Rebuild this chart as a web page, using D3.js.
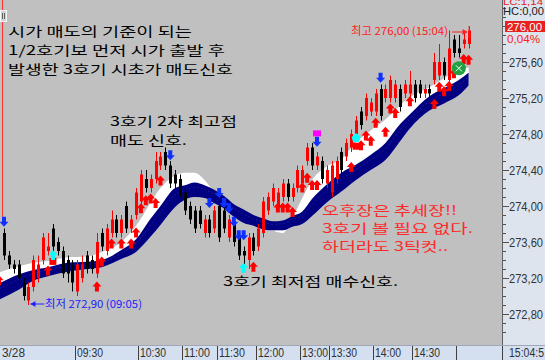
<!DOCTYPE html>
<html><head><meta charset="utf-8">
<script src="https://cdn.jsdelivr.net/npm/d3@7/dist/d3.min.js"></script>
<style>html,body{margin:0;padding:0;background:#fff;overflow:hidden}</style>
</head><body><svg id="c" width="545" height="360"></svg>
<script>
// ---- data (prices per candle, index 0..95) ----
const openP = [273.70,273.45,273.35,273.35,273.15,272.95,273.10,273.20,273.40,273.50,
273.75,273.60,273.50,273.40,273.35,273.05,273.20,273.45,273.40,273.25,
273.70,273.50,273.70,273.85,273.70,274.00,273.75,273.90,274.05,274.30,
274.20,274.30,274.45,274.60,274.45,274.35,274.30,274.15,274.00,273.95,
273.95,273.70,273.85,273.75,274.00,273.95,273.65,273.80,273.65,273.50,
273.40,273.65,273.55,273.70,273.95,274.05,274.00,274.10,274.25,274.10,
274.20,274.25,274.50,274.65,274.45,274.50,274.25,274.15,274.30,274.60,
274.55,274.65,274.80,275.05,275.00,275.05,275.05,275.30,275.20,275.20,
275.20,275.30,275.25,275.25,275.35,275.35,275.25,275.30,275.40,275.45,
275.60,275.40,275.85,275.75,275.80,275.80];
const highP = [273.75,273.50,273.40,273.40,273.20,273.15,273.45,273.45,273.70,273.70,
273.80,273.65,273.55,273.45,273.40,273.40,273.45,273.50,273.45,273.70,
273.75,273.80,273.95,273.90,273.90,274.05,273.90,274.20,274.40,274.40,
274.35,274.60,274.60,274.65,274.50,274.40,274.35,274.20,274.05,274.00,
274.00,273.90,273.90,274.00,274.05,274.00,273.90,273.85,273.70,273.55,
273.70,273.70,273.80,274.10,274.15,274.25,274.20,274.30,274.30,274.25,
274.45,274.45,274.70,274.70,274.60,274.55,274.45,274.50,274.55,274.65,
274.75,274.85,275.00,275.10,275.25,275.20,275.30,275.35,275.35,275.45,
275.40,275.35,275.40,275.50,275.40,275.40,275.35,275.35,275.70,275.80,
275.65,275.95,275.90,275.90,275.95,276.00];
const lowP = [273.40,273.30,273.25,273.15,272.95,272.90,273.05,273.15,273.35,273.45,
273.50,273.45,273.20,273.15,273.05,273.00,273.15,273.25,273.25,273.20,
273.50,273.45,273.65,273.65,273.65,273.70,273.70,273.85,274.00,274.15,
274.15,274.25,274.40,274.40,274.20,274.20,274.10,273.90,273.80,273.70,
273.75,273.65,273.65,273.70,273.60,273.70,273.60,273.55,273.40,273.35,
273.30,273.45,273.50,273.65,273.90,274.00,273.95,274.05,274.05,274.05,
274.15,274.20,274.45,274.40,274.40,274.25,274.20,274.10,274.25,274.35,
274.50,274.60,274.80,274.85,274.95,275.00,275.00,274.95,275.15,275.15,
275.15,275.05,275.20,275.20,275.15,275.20,275.20,275.20,275.35,275.40,
275.40,275.35,275.65,275.65,275.75,275.75];
const closeP = [273.45,273.35,273.30,273.20,273.00,273.10,273.40,273.35,273.65,273.55,
273.55,273.50,273.25,273.25,273.15,273.35,273.35,273.30,273.30,273.60,
273.55,273.75,273.85,273.70,273.85,273.75,273.85,274.15,274.35,274.20,
274.30,274.50,274.55,274.45,274.25,274.25,274.15,273.95,273.85,273.75,
273.80,273.85,273.70,273.95,273.65,273.75,273.85,273.60,273.45,273.45,
273.65,273.50,273.75,274.05,274.10,274.20,274.15,274.25,274.10,274.20,
274.40,274.40,274.65,274.45,274.55,274.30,274.40,274.45,274.50,274.40,
274.70,274.80,274.95,274.90,275.20,275.15,275.25,275.00,275.30,275.40,
275.35,275.10,275.35,275.35,275.20,275.25,275.30,275.25,275.60,275.60,
275.45,275.75,275.70,275.70,275.85,275.95];

// ribbon (trend band) samples
const bandIdx      = [-1, 3, 6, 9, 13, 17, 20, 24, 27, 30, 32, 35, 37, 39, 41, 43, 45, 47, 49, 51, 53, 55, 57, 59, 61, 63, 66, 69, 72, 75, 78, 81, 83, 87, 90, 93, 95];
const bandWhite    = [273.26,273.33,273.37,273.39,273.43,273.44,273.49,273.60,273.78,274.04,274.20,274.34,274.37,274.37,274.29,274.16,274.09,274.01,273.94,273.89,273.82,273.73,273.70,273.87,274.09,274.29,274.44,274.52,274.71,274.84,274.96,275.12,275.21,275.32,275.42,275.51,275.54];
const bandNavyTop  = [273.14,273.24,273.29,273.32,273.37,273.38,273.40,273.51,273.63,273.86,274.00,274.20,274.23,274.26,274.23,274.18,274.11,274.02,273.96,273.90,273.86,273.83,273.84,273.89,273.94,274.08,274.24,274.37,274.46,274.57,274.70,274.91,275.02,275.22,275.31,275.40,275.48];
const bandNavyBot  = [272.96,273.07,273.17,273.22,273.27,273.30,273.32,273.41,273.49,273.66,273.79,273.99,274.07,274.10,274.09,274.03,273.97,273.88,273.81,273.78,273.74,273.73,273.73,273.77,273.80,273.89,274.04,274.16,274.29,274.40,274.51,274.72,274.86,275.06,275.14,275.23,275.34];

// signals
const buyIdx   = [-1, 9, 19, 20, 22, 24, 26, 27, 28, 29, 30, 31, 32, 51, 56, 57, 58, 59, 61, 62, 63, 64, 71, 73, 74, 75, 76, 78, 79, 80, 83, 88, 89, 90, 91, 92, 94, 95];
const buyPrice = [273.23,273.34,273.16,273.44,273.64,273.64,273.64,273.76,274.03,274.12,274.14,274.09,274.34,273.38,274.04,274.04,274.04,273.99,274.26,274.37,274.29,274.29,274.49,274.73,274.84,274.78,274.98,274.88,275.14,275.09,275.22,275.19,275.38,275.33,275.39,275.53,275.69,275.68];
const sellIdx   = [0, 34, 42, 44, 45, 46, 47, 48, 49, 64, 77];
const sellPrice = [273.88,274.62,274.09,274.20,274.09,274.03,273.88,273.73,273.73,274.77,275.48];
const cyanIdx   = [10, 49];
const cyanPrice = [273.51,273.37];
const boxIdx    = [10, 72];
const boxPrice  = [273.39,274.67];
const pentIdx = [72], pentPrice = [274.81];
const magIdx = [64], magPrice = [274.84];
const circleIdx = [93], circlePrice = [275.53];

const yTicks = [272.80,273.20,273.60,274.00,274.40,274.80,275.20,275.60];
const yTickLabels = ["272,80","273,20","273,60","274,00","274,40","274,80","275,20","275,60"];
const timeIdx = [15, 28, 37, 44, 52, 61, 67, 76, 84, 93];
const timeLabels = ["09:30","10:30","11:00","11:30","12:00","13:00","13:30","14:00","14:30",""];

// ---- drawing ----
const svg = d3.select("#c");
const W = 545, H = 360, PR = 502, PB = 345;
const xs = d3.scaleLinear().domain([0, 95]).range([4, 468.6]);
const ys = d3.scaleLinear().domain([272.8, 276.0]).range([314, 26]);
const KR = "'Noto Sans CJK KR','Noto Sans',sans-serif";
const LS = "'Liberation Sans',Arial,sans-serif";

svg.append("rect").attr("x",0).attr("y",0).attr("width",W).attr("height",H).attr("fill","#dde4ee");
svg.append("rect").attr("x",0).attr("y",0).attr("width",PR).attr("height",PB).attr("fill","#c0c0c0");
svg.append("rect").attr("x",0).attr("y",PB).attr("width",W).attr("height",H-PB).attr("fill","#d4e0f0");
svg.append("defs").append("clipPath").attr("id","pc").append("rect").attr("width",PR).attr("height",PB);
const g = svg.append("g").attr("clip-path","url(#pc)");

// day separator
g.append("line").attr("x1",2.5).attr("x2",2.5).attr("y1",0).attr("y2",ys(273.88)).attr("stroke","#ff3030").attr("stroke-width",1);

// ribbon
const bd = bandIdx.map((d,i)=>({i:d,w:bandWhite[i],t:bandNavyTop[i],b:bandNavyBot[i]}));
g.append("path").datum(bd).attr("fill","#ffffff")
  .attr("d", d3.area().x(d=>xs(d.i)).y0(d=>ys(d.b)).y1(d=>ys(d.w)).curve(d3.curveMonotoneX));
g.append("path").datum(bd).attr("fill","#000080")
  .attr("d", d3.area().x(d=>xs(d.i)).y0(d=>ys(d.b)).y1(d=>ys(d.t)).curve(d3.curveMonotoneX));
g.append("path").datum(bd).attr("fill","none").attr("stroke","#1a1a9a").attr("stroke-width",1).attr("stroke-dasharray","2,2")
  .attr("d", d3.line().x(d=>xs(d.i)).y(d=>ys((d.t*2+d.b)/3)).curve(d3.curveMonotoneX));

// candles
const candles = d3.range(openP.length).map(i=>({i,o:openP[i],h:highP[i],l:lowP[i],c:closeP[i]}));
const cg = g.append("g");
candles.forEach(d=>{
  const col = d.c >= d.o ? "#ff0000" : "#000000";
  const cx = Math.round(xs(d.i));
  cg.append("line").attr("x1",cx+0.5).attr("x2",cx+0.5).attr("y1",ys(d.h)).attr("y2",ys(d.l)).attr("stroke",col);
  const y1 = ys(Math.max(d.o,d.c)), y2 = ys(Math.min(d.o,d.c));
  cg.append("rect").attr("x",cx-1).attr("width",3).attr("y",y1).attr("height",Math.max(1,y2-y1)).attr("fill",col);
});

// markers
const upPath = "M0,0L4.5,5L2,5L2,10L-2,10L-2,5L-4.5,5Z";
const dnPath = "M-2,0L2,0L2,5L4.5,5L0,10L-4.5,5L-2,5Z";
const mg = g.append("g");
boxIdx.forEach((d,k)=>mg.append("rect").attr("x",xs(d)-3.5).attr("y",ys(boxPrice[k])-3).attr("width",7).attr("height",7).attr("fill","#ff0000"));
buyIdx.forEach((d,k)=>mg.append("path").attr("d",upPath).attr("fill","#ff0000").attr("transform",`translate(${xs(d)},${ys(buyPrice[k])})`));
sellIdx.forEach((d,k)=>mg.append("path").attr("d",dnPath).attr("fill","#1030ff").attr("transform",`translate(${xs(d)},${ys(sellPrice[k])})`));
cyanIdx.forEach((d,k)=>mg.append("path").attr("d",upPath).attr("fill","#00ffff").attr("transform",`translate(${xs(d)},${ys(cyanPrice[k])})`));
pentIdx.forEach((d,k)=>mg.append("path").attr("d","M0,0L4.5,4L3,9L-3,9L-4.5,4Z").attr("fill","#00ffff").attr("transform",`translate(${xs(d)},${ys(pentPrice[k])})`));
magIdx.forEach((d,k)=>mg.append("rect").attr("x",xs(d)-4).attr("y",ys(magPrice[k])).attr("width",8).attr("height",6).attr("fill","#ff00ff"));
circleIdx.forEach((d,k)=>{
  const cx = xs(d), cy = ys(circlePrice[k]);
  mg.append("circle").attr("cx",cx).attr("cy",cy).attr("r",7).attr("fill","#20a040");
  mg.append("path").attr("d",`M${cx-3},${cy-3}L${cx+3},${cy+3}M${cx+3},${cy-3}L${cx-3},${cy+3}`).attr("stroke","#ffffff").attr("stroke-width",1);
});

// small icon
g.append("rect").attr("x",0.5).attr("y",10.5).attr("width",6).attr("height",11).attr("fill","#d4d4d4").attr("stroke","#f8f8f8");
g.append("path").attr("d","M2.5,13V19M4.5,13V19").attr("stroke","#606060");

// annotations
function txt(x,y,s,size,fill,len,fam){
  const t = g.append("text").attr("x",x).attr("y",y).attr("font-family",fam||KR).attr("font-size",size).attr("fill",fill).text(s);
  if(len) t.attr("textLength",len).attr("lengthAdjust","spacingAndGlyphs");
  return t;
}
txt(8,36,"시가 매도의 기준이 되는",13,"#000",184);
txt(8,55,"1/2호기보 먼저 시가 출발 후",13,"#000",217);
txt(8,74,"발생한 3호기 시초가 매도신호",13,"#000",225);
txt(110,126,"3호기 2차 최고점",13,"#000",127);
txt(110,145,"매도 신호.",13,"#000",77);
txt(223,286,"3호기 최저점 매수신호.",13,"#000",175);
txt(322,215,"오후장은 추세장!!",13,"#ff2a2a",135);
txt(322,233,"3호기 볼 필요 없다.",13,"#ff2a2a",151);
txt(322,251,"하더라도 3틱컷..",13,"#ff2a2a",126);

// high marker
const hx = xs(95), hy = ys(276.0)+6;
txt(351,35,"최고 276,00 (15:04)",11,"#ff2020",97);
g.append("line").attr("x1",452).attr("x2",hx-2).attr("y1",hy).attr("y2",hy).attr("stroke","#ff2020");
g.append("path").attr("d",`M${hx-1},${hy}L${hx-6},${hy-3}L${hx-6},${hy+3}Z`).attr("fill","#ff2020");
g.append("line").attr("x1",hx+0.5).attr("x2",hx+0.5).attr("y1",hy-6).attr("y2",hy+6).attr("stroke","#ff2020");
// low marker
const lx = xs(5)+2, ly = ys(272.90)-1;
g.append("line").attr("x1",lx).attr("x2",lx+14).attr("y1",ly).attr("y2",ly).attr("stroke","#2020ff");
g.append("path").attr("d",`M${lx},${ly}L${lx+5},${ly-3}L${lx+5},${ly+3}Z`).attr("fill","#2020ff");
txt(45,308,"최저 272,90 (09:05)",11,"#2020ff",97);

// right axis
svg.append("line").attr("x1",502.5).attr("x2",502.5).attr("y1",0).attr("y2",PB).attr("stroke","#606060");
d3.range(272.6, 276.25, 0.1).forEach(v=>{
  svg.append("line").attr("x1",503).attr("x2",506).attr("y1",Math.round(ys(v))+0.5).attr("y2",Math.round(ys(v))+0.5).attr("stroke","#505050");
});
yTicks.forEach((v,k)=>{
  const y = Math.round(ys(v))+0.5;
  svg.append("line").attr("x1",503).attr("x2",509).attr("y1",y).attr("y2",y).attr("stroke","#505050");
  svg.append("text").attr("x",509).attr("y",y+4.5).attr("font-family",LS).attr("font-size",12).attr("fill","#333")
    .attr("textLength",34).attr("lengthAdjust","spacingAndGlyphs").text(yTickLabels[k]);
});
svg.append("text").attr("x",503).attr("y",5).attr("font-family",LS).attr("font-size",9).attr("fill","#e02020").attr("textLength",40).attr("lengthAdjust","spacingAndGlyphs").text("LC:1,14");
svg.append("text").attr("x",503).attr("y",15).attr("font-family",LS).attr("font-size",11).attr("fill","#202020").attr("textLength",41).attr("lengthAdjust","spacingAndGlyphs").text("HC:0,00");
svg.append("rect").attr("x",505).attr("y",ys(276.0)-5).attr("width",40).attr("height",11).attr("fill","#e82020");
svg.append("text").attr("x",507).attr("y",ys(276.0)+4.5).attr("font-family",LS).attr("font-size",11).attr("fill","#fff").attr("textLength",35).attr("lengthAdjust","spacingAndGlyphs").text("276,00");
svg.append("text").attr("x",507).attr("y",ys(276.0)+17).attr("font-family",LS).attr("font-size",11.5).attr("fill","#ff2020").attr("textLength",33).attr("lengthAdjust","spacingAndGlyphs").text("0,04%");

// bottom axis
svg.append("line").attr("x1",0).attr("x2",W).attr("y1",PB+0.5).attr("y2",PB+0.5).attr("stroke","#a0a8b8");
svg.append("text").attr("x",2).attr("y",357).attr("font-family",LS).attr("font-size",12).attr("fill","#303030").attr("textLength",23).attr("lengthAdjust","spacingAndGlyphs").text("3/28");
timeIdx.forEach((d,k)=>{
  const x = Math.round(xs(d)-2.45)+0.5;
  svg.append("line").attr("x1",x).attr("x2",x).attr("y1",PB+1).attr("y2",H).attr("stroke","#404040");
  if(timeLabels[k]) svg.append("text").attr("x",x+1.5).attr("y",357).attr("font-family",LS).attr("font-size",12).attr("fill","#303030")
    .attr("textLength",26).attr("lengthAdjust","spacingAndGlyphs").text(timeLabels[k]);
});
svg.append("line").attr("x1",502.5).attr("x2",502.5).attr("y1",PB+1).attr("y2",H).attr("stroke","#404040");
svg.append("text").attr("x",509).attr("y",357).attr("font-family",LS).attr("font-size",12).attr("fill","#303030").attr("textLength",35).attr("lengthAdjust","spacingAndGlyphs").text("15:04:5");
</script></body></html>
